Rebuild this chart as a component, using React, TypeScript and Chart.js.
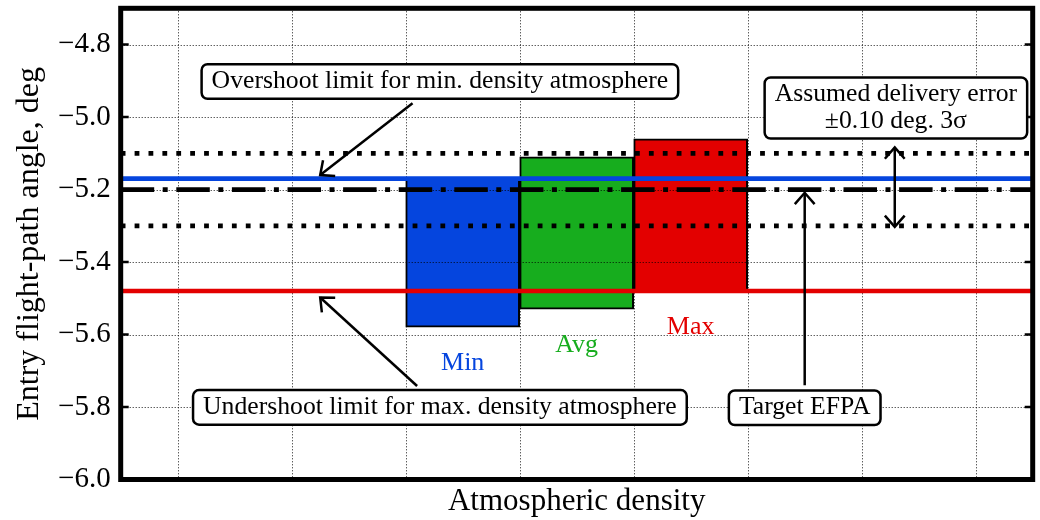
import React, { useEffect, useRef } from 'react';
import { Chart, registerables } from 'chart.js';

Chart.register(...registerables);

// Atmosphere cases and the entry flight-path angle corridor (deg) for each
const categories = ['Min', 'Avg', 'Max'];
const slots = [3, 4, 5];
const corridorLow = [-5.58, -5.53, -5.48];
const corridorHigh = [-5.17, -5.11, -5.06];

// Reference levels (deg)
const overshootLimit = -5.17;
const undershootLimit = -5.48;
const targetEfpa = -5.2;
const deliveryError = 0.1;

// Axis ticks
const yTicks = [-6.0, -5.8, -5.6, -5.4, -5.2, -5.0, -4.8];
const xGrid = [0.5, 1.5, 2.5, 3.5, 4.5, 5.5, 6.5, 7.5];

const FONT = '"Liberation Serif", "Times New Roman", serif';
const BLUE = '#0545de';
const GREEN = '#17ad1e';
const RED = '#e30000';
const barColors = [BLUE, GREEN, RED];

type Note = {
  lines: string[];
  x: number;
  y: number;
  arrows: { from: [number, number]; to: [number, number]; both?: boolean }[];
};

const notes: Note[] = [
  {
    lines: ['Overshoot limit for min. density atmosphere'],
    x: 2.8,
    y: -4.902,
    arrows: [{ from: [2.56, -4.962], to: [1.75, -5.16] }],
  },
  {
    lines: ['Undershoot limit for max. density atmosphere'],
    x: 2.8,
    y: -5.801,
    arrows: [{ from: [2.6, -5.742], to: [1.75, -5.498] }],
  },
  {
    lines: ['Assumed delivery error', '\u00b10.10 deg. 3\u03c3'],
    x: 6.8,
    y: -4.975,
    arrows: [{ from: [6.79, -5.084], to: [6.79, -5.303], both: true }],
  },
  {
    lines: ['Target EFPA'],
    x: 6.0,
    y: -5.802,
    arrows: [{ from: [6.0, -5.74], to: [6.0, -5.209] }],
  },
];

const fmtTick = (v: number) => (v < 0 ? '\u2212' : '') + Math.abs(v).toFixed(1);

function hLine(label: string, y: number, color: string, dash: number[], order: number) {
  return {
    type: 'line' as const,
    label,
    data: [
      { x: 0, y },
      { x: 8, y },
    ],
    borderColor: color,
    borderWidth: 4.7,
    borderDash: dash,
    borderCapStyle: 'butt' as const,
    pointRadius: 0,
    fill: false,
    order,
  };
}

function drawHead(ctx: CanvasRenderingContext2D, tx: number, ty: number, fx: number, fy: number) {
  const a = Math.atan2(ty - fy, tx - fx);
  const len = 15;
  const spread = 0.72;
  ctx.beginPath();
  ctx.moveTo(tx - len * Math.cos(a - spread), ty - len * Math.sin(a - spread));
  ctx.lineTo(tx, ty);
  ctx.lineTo(tx - len * Math.cos(a + spread), ty - len * Math.sin(a + spread));
  ctx.stroke();
}

function roundBox(ctx: CanvasRenderingContext2D, x: number, y: number, w: number, h: number, r: number) {
  ctx.beginPath();
  ctx.moveTo(x + r, y);
  ctx.arcTo(x + w, y, x + w, y + h, r);
  ctx.arcTo(x + w, y + h, x, y + h, r);
  ctx.arcTo(x, y + h, x, y, r);
  ctx.arcTo(x, y, x + w, y, r);
  ctx.closePath();
}

// Dotted grid, drawn right after the bars so the lines stay on top
const gridPlugin = {
  id: 'midGrid',
  afterDatasetDraw(chart: any, args: any) {
    if (args.meta.type !== 'bar') return;
    const { ctx, chartArea: a, scales } = chart;
    ctx.save();
    ctx.strokeStyle = 'rgba(0,0,0,0.9)';
    ctx.lineWidth = 1;
    ctx.setLineDash([1, 2]);
    for (const v of xGrid) {
      const px = Math.round(scales.x.getPixelForValue(v)) + 0.5;
      ctx.beginPath();
      ctx.moveTo(px, a.top);
      ctx.lineTo(px, a.bottom);
      ctx.stroke();
    }
    for (const v of yTicks) {
      const py = Math.round(scales.y.getPixelForValue(v)) + 0.5;
      ctx.beginPath();
      ctx.moveTo(a.left, py);
      ctx.lineTo(a.right, py);
      ctx.stroke();
    }
    ctx.restore();
  },
};

// Heavy frame, inward ticks and bar captions
const framePlugin = {
  id: 'frame',
  afterDatasetsDraw(chart: any) {
    const { ctx, chartArea: a, scales } = chart;
    ctx.save();
    ctx.strokeStyle = '#000';
    ctx.lineWidth = 2.6;
    for (const v of yTicks) {
      const py = scales.y.getPixelForValue(v);
      ctx.beginPath();
      ctx.moveTo(a.left, py);
      ctx.lineTo(a.left + 8, py);
      ctx.moveTo(a.right, py);
      ctx.lineTo(a.right - 8, py);
      ctx.stroke();
    }
    ctx.lineWidth = 5;
    ctx.strokeRect(a.left, a.top, a.right - a.left, a.bottom - a.top);

    const meta = chart.getDatasetMeta(0);
    ctx.font = `26px ${FONT}`;
    ctx.textAlign = 'center';
    ctx.textBaseline = 'middle';
    meta.data.forEach((bar: any, i: number) => {
      ctx.fillStyle = barColors[i];
      ctx.fillText(categories[i], bar.x, scales.y.getPixelForValue(corridorLow[i] - 0.1));
    });
    ctx.restore();
  },
};

// Callout boxes with arrows
const notesPlugin = {
  id: 'notes',
  afterDraw(chart: any) {
    const { ctx, scales } = chart;
    const px = (v: number) => scales.x.getPixelForValue(v);
    const py = (v: number) => scales.y.getPixelForValue(v);
    ctx.save();
    ctx.strokeStyle = '#000';
    ctx.lineWidth = 2.5;
    ctx.lineCap = 'butt';
    ctx.lineJoin = 'miter';
    for (const n of notes) {
      for (const ar of n.arrows) {
        const fx = px(ar.from[0]);
        const fy = py(ar.from[1]);
        const tx = px(ar.to[0]);
        const ty = py(ar.to[1]);
        ctx.beginPath();
        ctx.moveTo(fx, fy);
        ctx.lineTo(tx, ty);
        ctx.stroke();
        drawHead(ctx, tx, ty, fx, fy);
        if (ar.both) drawHead(ctx, fx, fy, tx, ty);
      }
    }
    ctx.font = `25.7px ${FONT}`;
    ctx.textAlign = 'center';
    ctx.textBaseline = 'middle';
    const lineH = 26.6;
    for (const n of notes) {
      const cx = px(n.x);
      const cy = py(n.y);
      const w = Math.max(...n.lines.map((t) => ctx.measureText(t).width)) + 20;
      const h = n.lines.length * lineH + 8;
      roundBox(ctx, cx - w / 2, cy - h / 2, w, h, 6);
      ctx.fillStyle = '#fff';
      ctx.fill();
      ctx.stroke();
      ctx.fillStyle = '#000';
      n.lines.forEach((t, i) => {
        ctx.fillText(t, cx, cy + (i - (n.lines.length - 1) / 2) * lineH);
      });
    }
    ctx.restore();
  },
};

export default function App() {
  const ref = useRef<HTMLCanvasElement>(null);

  useEffect(() => {
    const canvas = ref.current;
    if (!canvas) return;
    const chart = new Chart(canvas, {
      type: 'bar',
      data: {
        datasets: [
          {
            type: 'bar',
            label: 'EFPA corridor',
            data: categories.map((c, i) => ({ x: slots[i], y: [corridorLow[i], corridorHigh[i]] })) as any,
            backgroundColor: barColors,
            borderColor: '#000',
            borderWidth: 2,
            borderSkipped: false,
            barPercentage: 1,
            categoryPercentage: 1,
            order: 10,
          },
          hLine('Delivery error +', targetEfpa + deliveryError, '#000', [4.8, 9.1], 3) as any,
          hLine('Delivery error \u2212', targetEfpa - deliveryError, '#000', [4.8, 9.1], 3) as any,
          hLine('Target EFPA', targetEfpa, '#000', [33.5, 8.5, 5, 8.6], 2) as any,
          hLine('Overshoot limit', overshootLimit, BLUE, [], 1) as any,
          hLine('Undershoot limit', undershootLimit, RED, [], 1) as any,
        ],
      },
      options: {
        responsive: false,
        animation: false,
        events: [],
        layout: { padding: { left: 0, top: 8.3, right: 7.3, bottom: 0 } },
        plugins: { legend: { display: false }, tooltip: { enabled: false } },
        scales: {
          x: {
            type: 'linear',
            min: 0,
            max: 8,
            offset: false,
            grid: { display: false, drawTicks: false },
            border: { display: false },
            ticks: { display: false },
            afterBuildTicks: (s: any) => {
              s.ticks = xGrid.map((v) => ({ value: v }));
            },
            afterFit: (s: any) => {
              s.height = 40.5;
              s.paddingLeft = 0;
              s.paddingRight = 0;
            },
            title: {
              display: true,
              text: 'Atmospheric density',
              color: '#000',
              font: { family: FONT, size: 31 },
              padding: { top: 0, bottom: 0 },
            },
          },
          y: {
            type: 'linear',
            min: -6.0,
            max: -4.7,
            grid: { display: false, drawTicks: false },
            border: { display: false },
            afterBuildTicks: (s: any) => {
              s.ticks = yTicks.map((v) => ({ value: v }));
            },
            afterFit: (s: any) => {
              s.width = 120.7;
              s.paddingTop = 0;
              s.paddingBottom = 0;
            },
            ticks: {
              padding: 10,
              color: '#000',
              font: { family: FONT, size: 29 },
              callback: (v: any) => fmtTick(Number(v)),
            },
            title: {
              display: true,
              text: 'Entry flight-path angle, deg',
              color: '#000',
              font: { family: FONT, size: 32 },
              padding: { top: 10, bottom: 0 },
            },
          },
        },
      },
      plugins: [gridPlugin, framePlugin, notesPlugin],
    });
    return () => chart.destroy();
  }, []);

  return (
    <div style={{ position: 'fixed', left: 0, top: 0, width: 1040, height: 520, background: '#fff' }}>
      <canvas ref={ref} width={1040} height={520} />
    </div>
  );
}
